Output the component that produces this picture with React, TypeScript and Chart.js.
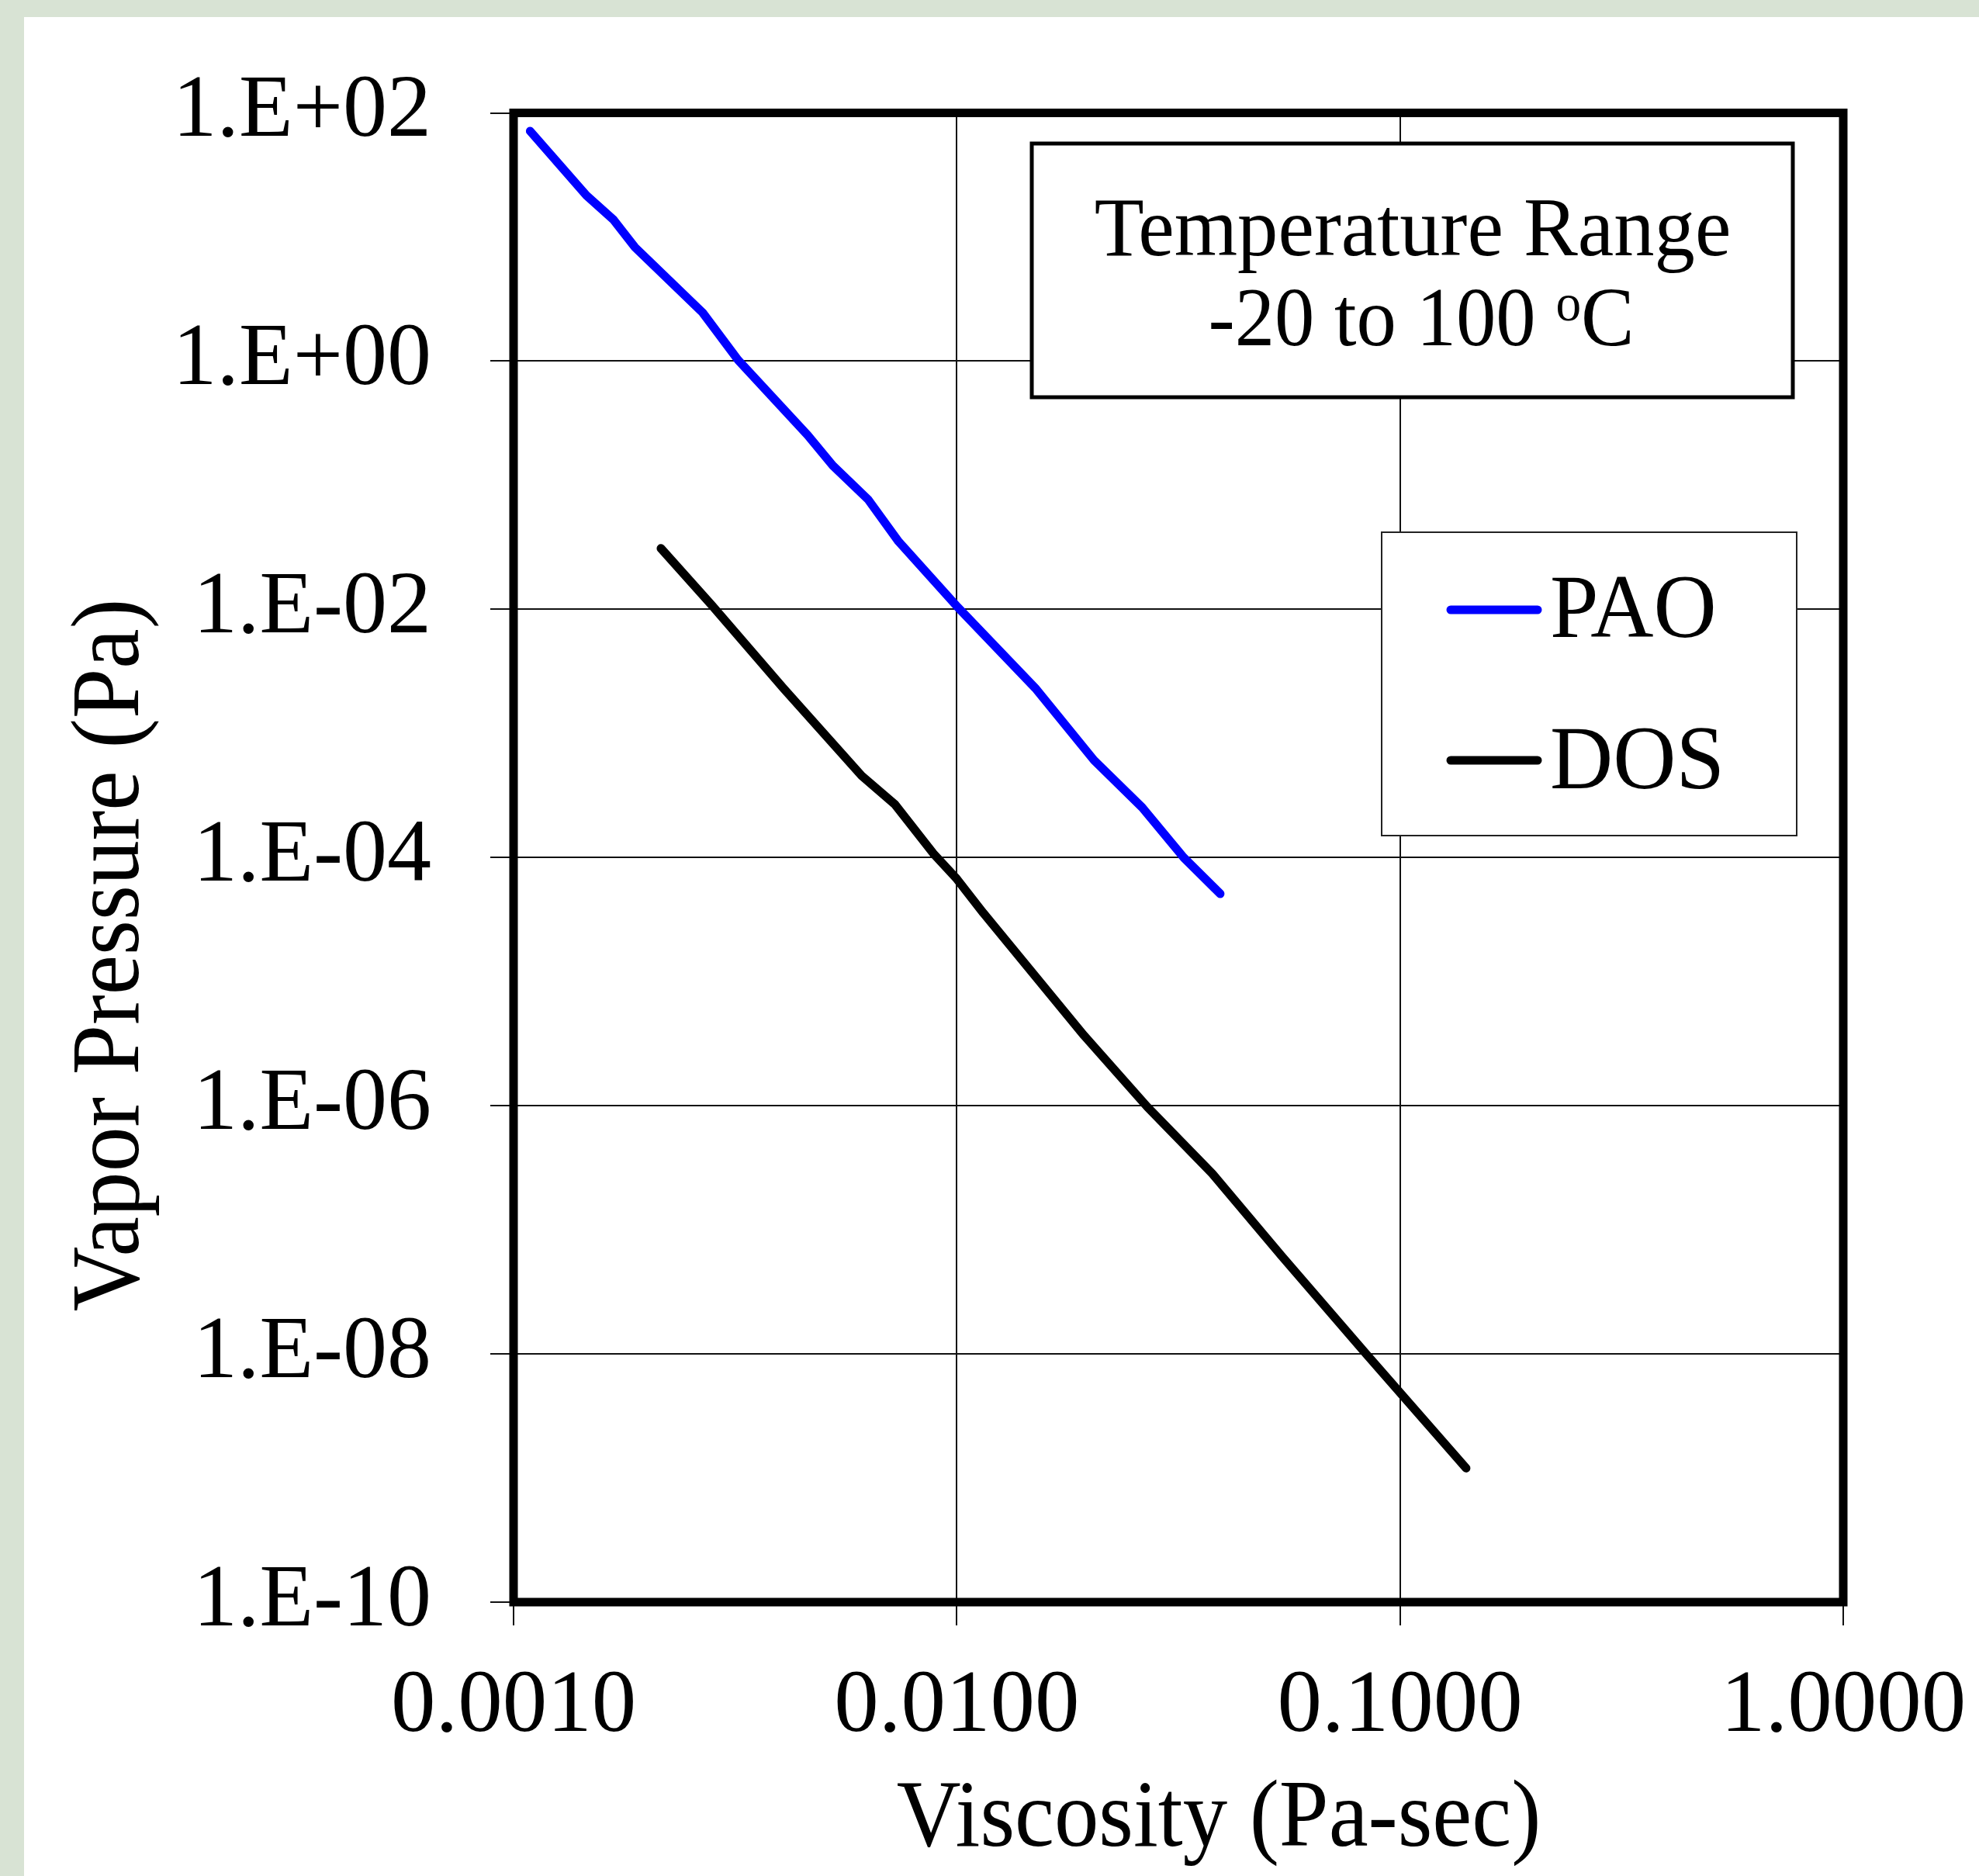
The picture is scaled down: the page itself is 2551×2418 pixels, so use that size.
import React, { useEffect, useRef } from "react";
import { Chart, registerables } from "chart.js";

Chart.register(...registerables);

// ---------------- data ----------------
const paoViscosity = [0.00109, 0.00146, 0.00168, 0.00188, 0.00267, 0.00321, 0.00461, 0.00525, 0.00631, 0.00739, 0.01005, 0.01503, 0.0204, 0.0262, 0.0325, 0.0393];
const paoVaporPressure = [71.3, 21.6, 13.8, 8.24, 2.46, 1.02, 0.253, 0.144, 0.0766, 0.0352, 0.0104, 0.00232, 6.08e-4, 2.53e-4, 1.0e-4, 5.1e-5];

const dosViscosity = [0.00215, 0.0028, 0.00406, 0.0061, 0.00725, 0.00885, 0.01, 0.01148, 0.01937, 0.0269, 0.0377, 0.054, 0.0841, 0.141];
const dosVaporPressure = [0.031, 0.0108, 0.00232, 4.56e-4, 2.68e-4, 1.08e-4, 6.73e-5, 3.57e-5, 3.68e-6, 9.8e-7, 2.84e-7, 6.18e-8, 9.9e-9, 1.2e-9];

const seriesNames = ["PAO", "DOS"];
const seriesColors = ["#0000ff", "#000000"];

const xTickValues = [0.001, 0.01, 0.1, 1];
const xTickLabels = ["0.0010", "0.0100", "0.1000", "1.0000"];
const yTickValues = [1e-10, 1e-8, 1e-6, 1e-4, 1e-2, 1, 100];
const yTickLabels = ["1.E-10", "1.E-08", "1.E-06", "1.E-04", "1.E-02", "1.E+00", "1.E+02"];

const xAxisTitle = "Viscosity (Pa-sec)";
const yAxisTitle = "Vapor Pressure (Pa)";
const noteLine1 = "Temperature Range";
const noteLine2Main = "-20 to 100 ";
const noteLine2Sup = "o";
const noteLine2End = "C";

// ---------------- layout ----------------
const PAGE_W = 2551;
const PAGE_H = 2418;
const OX = 31; // white panel offset
const OY = 22;
const CW = PAGE_W - OX;
const CH = PAGE_H - OY;
const FONT = '"Liberation Serif", "Times New Roman", Times, serif';

function labelFor(values: number[], labels: string[], v: number) {
  for (let i = 0; i < values.length; i++) {
    if (Math.abs(Math.log10(values[i]) - Math.log10(v)) < 1e-6) return labels[i];
  }
  return "";
}

function drawText(ctx: CanvasRenderingContext2D, text: string, x: number, y: number, size: number, sx: number, align: CanvasTextAlign) {
  ctx.save();
  ctx.font = `${size}px ${FONT}`;
  ctx.translate(x, y);
  ctx.scale(sx, 1);
  ctx.textAlign = align;
  ctx.textBaseline = "alphabetic";
  ctx.fillStyle = "#000";
  ctx.fillText(text, 0, 0);
  ctx.restore();
}

function zeroPadding(scale: any) {
  scale.paddingTop = 0;
  scale.paddingBottom = 0;
  scale.paddingLeft = 0;
  scale.paddingRight = 0;
}

const decorPlugin = {
  id: "decor",
  afterDraw(chart: any) {
    const ctx: CanvasRenderingContext2D = chart.ctx;
    const a = chart.chartArea;
    // frame
    ctx.save();
    ctx.strokeStyle = "#000";
    ctx.lineWidth = 11;
    ctx.lineJoin = "miter";
    ctx.strokeRect(a.left, a.top, a.right - a.left, a.bottom - a.top);
    ctx.restore();

    // axis titles
    drawText(ctx, xAxisTitle, 1571 - OX, 2379 - OY, 122, 0.94, "center");
    ctx.save();
    ctx.translate(178 - OX, 1231 - OY);
    ctx.rotate(-Math.PI / 2);
    drawText(ctx, yAxisTitle, 0, 0, 125, 0.925, "center");
    ctx.restore();

    // note box
    ctx.save();
    ctx.fillStyle = "#fff";
    ctx.strokeStyle = "#000";
    ctx.lineWidth = 5;
    const bx = 1330 - OX, by = 185 - OY, bw = 2311 - 1330, bh = 512 - 185;
    ctx.fillRect(bx, by, bw, bh);
    ctx.strokeRect(bx, by, bw, bh);
    ctx.restore();
    drawText(ctx, noteLine1, 1821 - OX, 329 - OY, 109, 0.96, "center");
    {
      const size = 107, sx = 0.96, supSize = 68;
      ctx.save();
      ctx.font = `${size}px ${FONT}`;
      const w1 = ctx.measureText(noteLine2Main).width * sx;
      const w3 = ctx.measureText(noteLine2End).width * sx;
      ctx.font = `${supSize}px ${FONT}`;
      const w2 = ctx.measureText(noteLine2Sup).width * sx;
      ctx.restore();
      const total = w1 + w2 + w3;
      let x = 1832 - OX - total / 2;
      const base = 445 - OY;
      drawText(ctx, noteLine2Main, x, base, size, sx, "left");
      x += w1;
      drawText(ctx, noteLine2Sup, x, base - 32, supSize, sx, "left");
      x += w2;
      drawText(ctx, noteLine2End, x, base, size, sx, "left");
    }

    // legend box
    ctx.save();
    ctx.fillStyle = "#fff";
    ctx.strokeStyle = "#222";
    ctx.lineWidth = 2;
    const lx = 1781 - OX, ly = 686 - OY, lw = 2316 - 1781, lh = 1077 - 686;
    ctx.fillRect(lx, ly, lw, lh);
    ctx.strokeRect(lx, ly, lw, lh);
    ctx.restore();
    const rows = [786, 980];
    const bases = [821, 1016];
    chart.data.datasets.forEach((ds: any, i: number) => {
      ctx.save();
      ctx.strokeStyle = ds.borderColor;
      ctx.lineWidth = 11;
      ctx.lineCap = "round";
      ctx.beginPath();
      ctx.moveTo(1870 - OX, rows[i] - OY);
      ctx.lineTo(1982 - OX, rows[i] - OY);
      ctx.stroke();
      ctx.restore();
      drawText(ctx, ds.label, 1998 - OX, bases[i] - OY, 116, 0.97, "left");
    });
  },
};

export default function App() {
  const ref = useRef<HTMLCanvasElement | null>(null);

  useEffect(() => {
    if (!ref.current) return;
    const chart = new Chart(ref.current, {
      type: "scatter",
      data: {
        datasets: [
          {
            label: seriesNames[0],
            data: paoViscosity.map((x, i) => ({ x, y: paoVaporPressure[i] })),
            borderColor: seriesColors[0],
            backgroundColor: seriesColors[0],
            showLine: true,
            borderWidth: 11,
            pointRadius: 0,
            tension: 0,
            borderCapStyle: "round",
            borderJoinStyle: "round",
          },
          {
            label: seriesNames[1],
            data: dosViscosity.map((x, i) => ({ x, y: dosVaporPressure[i] })),
            borderColor: seriesColors[1],
            backgroundColor: seriesColors[1],
            showLine: true,
            borderWidth: 11,
            pointRadius: 0,
            tension: 0,
            borderCapStyle: "round",
            borderJoinStyle: "round",
          },
        ],
      },
      options: {
        responsive: false,
        maintainAspectRatio: false,
        animation: false,
        devicePixelRatio: 1,
        events: [],
        layout: { padding: { left: 0, top: 145.5 - OY, right: CW - (2376 - OX), bottom: 0 } },
        plugins: {
          legend: { display: false },
          tooltip: { enabled: false },
          title: { display: false },
        },
        scales: {
          x: {
            type: "logarithmic",
            position: "bottom",
            min: xTickValues[0],
            max: xTickValues[xTickValues.length - 1],
            afterBuildTicks: (scale: any) => {
              scale.ticks = xTickValues.map((v) => ({ value: v }));
            },
            afterFit: (scale: any) => {
              scale.height = CH - (2065 - OY);
              zeroPadding(scale);
            },
            grid: { color: "#111", lineWidth: 2, tickLength: 30, drawTicks: true },
            border: { display: false },
            ticks: {
              autoSkip: false,
              maxRotation: 0,
              minRotation: 0,
              padding: 37,
              color: "#000",
              font: { family: FONT, size: 115 },
              callback: (v: any) => labelFor(xTickValues, xTickLabels, Number(v)),
            },
          },
          y: {
            type: "logarithmic",
            position: "left",
            min: yTickValues[0],
            max: yTickValues[yTickValues.length - 1],
            afterBuildTicks: (scale: any) => {
              scale.ticks = yTickValues.map((v) => ({ value: v }));
            },
            afterFit: (scale: any) => {
              scale.width = 662 - OX;
              zeroPadding(scale);
            },
            grid: { color: "#111", lineWidth: 2, tickLength: 30, drawTicks: true },
            border: { display: false },
            ticks: {
              autoSkip: false,
              padding: 76,
              color: "#000",
              font: { family: FONT, size: 114 },
              callback: (v: any) => labelFor(yTickValues, yTickLabels, Number(v)),
            },
          },
        },
      },
      plugins: [decorPlugin],
    } as any);
    return () => chart.destroy();
  }, []);

  return (
    <div
      style={{
        position: "fixed",
        left: 0,
        top: 0,
        width: PAGE_W,
        height: PAGE_H,
        background: "#d8e3d4",
        overflow: "hidden",
      }}
    >
      <canvas
        ref={ref}
        width={CW}
        height={CH}
        style={{ position: "absolute", left: OX, top: OY, width: CW, height: CH, background: "#fff" }}
      />
    </div>
  );
}
